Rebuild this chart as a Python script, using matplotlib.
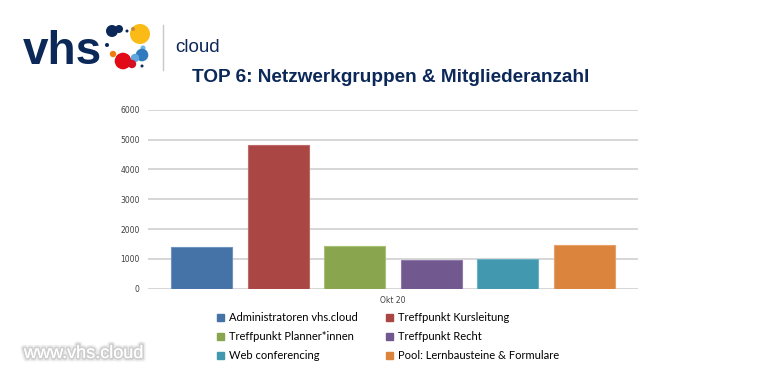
import matplotlib.pyplot as plt
import matplotlib.patheffects as pe
from matplotlib.patches import Circle, Patch

groups = ['Administratoren vhs.cloud', 'Treffpunkt Kursleitung',
          'Treffpunkt Planner*innen', 'Treffpunkt Recht',
          'Web conferencing', 'Pool: Lernbausteine & Formulare']
members = [1390, 4830, 1420, 960, 1005, 1465]
colors = ['#4572A7', '#AA4643', '#89A54E', '#71588F', '#4198AF', '#DB843D']
edges = ['#6f93c0', '#c06a67', '#a7c073', '#8f78aa', '#6ab3c7', '#e9a066']
period = 'Okt 20'
yticks = [0, 1000, 2000, 3000, 4000, 5000, 6000]

navy = '#0b2859'

fig = plt.figure(figsize=(7.66, 3.83), dpi=100, facecolor='white')

# background layer in pixel coordinates: logo, title, footer
bg = fig.add_axes([0, 0, 1, 1], zorder=0)
bg.set_xlim(0, 766)
bg.set_ylim(383, 0)
bg.axis('off')

bg.text(23, 64, 'vhs', fontsize=33, fontweight='bold', color=navy,
        family='Liberation Sans', ha='left', va='baseline')
blobs = [
    (112, 31, 6, navy), (119, 29, 4, navy), (127, 31, 1.5, navy),
    (140, 34, 10, '#fbbb17'), (133, 29, 2, '#c58a3a'),
    (107, 45, 2, navy), (113, 54, 3.2, '#ee7d10'),
    (143, 48, 2.5, '#6cb4e4'), (142, 55, 6.3, '#2f7bbd'),
    (135, 58, 4.2, '#5fa8de'), (123, 61, 8.3, '#e30a17'),
    (132, 64, 4.2, '#d51022'), (142, 66, 1.5, navy),
]
for x, y, r, c in blobs:
    bg.add_patch(Circle((x, y), r, color=c, lw=0))
bg.plot([163, 163], [25, 70], color='#c8c8c8', lw=1)
bg.text(175, 52, 'cloud', fontsize=13.5, color=navy, family='Liberation Sans',
        ha='left', va='baseline')

bg.text(390.5, 82.5, 'TOP 6: Netzwerkgruppen & Mitgliederanzahl', fontsize=13.7,
        fontweight='bold', color=navy, family='Liberation Sans',
        ha='center', va='baseline')

bg.text(24, 358, 'www.vhs.cloud', fontsize=13, color='white',
        family='Liberation Sans', ha='left', va='baseline',
        path_effects=[pe.withStroke(linewidth=5, foreground='#ececec'),
                      pe.withStroke(linewidth=2.5, foreground='#cfcfcf'),
                      pe.Normal()])

# chart
ax = fig.add_axes([148 / 766, 1 - 288.7 / 383, 490 / 766, 179 / 383], zorder=1)
ax.patch.set_alpha(0)
pos = list(range(len(members)))
ax.bar(pos, members, width=0.8, color=colors, edgecolor=edges, linewidth=0.8,
       zorder=3)
ax.set_xlim(-0.7, 5.7)
ax.set_ylim(0, 6000)
ax.set_yticks(yticks)
ax.set_yticklabels([str(t) for t in yticks])
ax.set_xticks([2.5])
ax.set_xticklabels([period])
ax.yaxis.grid(True, color='#d0d0d0', lw=1.2, zorder=0)
ax.set_axisbelow(True)
for s in ax.spines.values():
    s.set_visible(False)
ax.tick_params(axis='y', length=0, labelsize=5.5, labelcolor='#404040', pad=6)
ax.tick_params(axis='x', length=0, labelsize=5.5, labelcolor='#404040', pad=5)

order = [0, 2, 4, 1, 3, 5]
handles = [Patch(facecolor=colors[i], edgecolor=colors[i]) for i in order]
labels = [groups[i] for i in order]
fig.legend(handles, labels, ncol=2, loc='upper left',
           bbox_to_anchor=(217 / 766, 1 - 312 / 383), frameon=False,
           prop={'family': 'Lato', 'size': 8}, handlelength=0.6,
           handleheight=0.6, handletextpad=0.45, columnspacing=2.6,
           labelspacing=0.72, borderaxespad=0, borderpad=0)

fig.savefig('out.png', dpi=100, facecolor='white')
